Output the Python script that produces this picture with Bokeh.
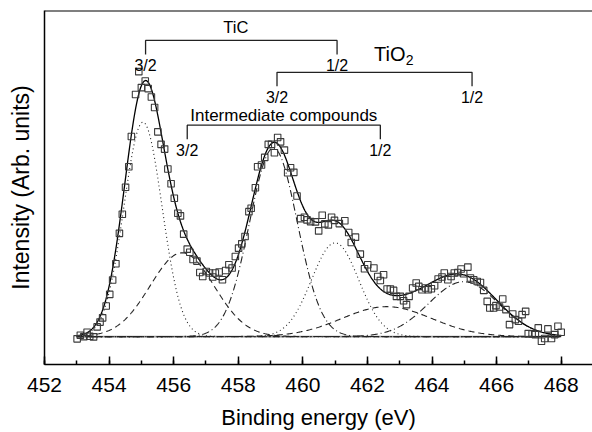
import numpy as np
from bokeh.plotting import figure
from bokeh.models import FixedTicker, Span, Range1d
from bokeh.core.properties import value
from bokeh.embed import file_html
from bokeh.resources import INLINE

# ---- measured spectrum (binding energy eV, intensity arb.) ----
energy = [453.01, 453.11, 453.22, 453.32, 453.40, 453.52, 453.63, 453.72, 453.80, 453.91,
          454.02, 454.11, 454.21, 454.32, 454.41, 454.51, 454.61, 454.69, 454.82, 454.92,
          455.00, 455.12, 455.21, 455.31, 455.41, 455.51, 455.61, 455.72, 455.82, 455.92,
          456.02, 456.13, 456.21, 456.31, 456.42, 456.50, 456.60, 456.72, 456.81, 456.90,
          457.01, 457.11, 457.21, 457.29, 457.41, 457.51, 457.61, 457.71, 457.81, 457.91,
          458.01, 458.11, 458.21, 458.33, 458.40, 458.53, 458.60, 458.72, 458.82, 458.93,
          459.03, 459.12, 459.22, 459.31, 459.43, 459.53, 459.62, 459.72, 459.82, 459.93,
          460.05, 460.13, 460.24, 460.39, 460.49, 460.60, 460.68, 460.79, 460.89, 460.98,
          461.13, 461.30, 461.42, 461.50, 461.63, 461.78, 461.91, 462.01, 462.20, 462.32,
          462.40, 462.50, 462.61, 462.71, 462.81, 462.90, 463.02, 463.12, 463.21, 463.29,
          463.40, 463.51, 463.59, 463.69, 463.80, 463.88, 463.98, 464.08, 464.19, 464.31,
          464.38, 464.49, 464.59, 464.69, 464.80, 464.90, 464.98, 465.11, 465.19, 465.29,
          465.40, 465.50, 465.60, 465.71, 465.79, 465.91, 465.98, 466.09, 466.19, 466.29,
          466.40, 466.50, 466.58, 466.68, 466.79, 466.90, 466.98, 467.10, 467.20, 467.29,
          467.39, 467.49, 467.59, 467.70, 467.80, 467.90, 468.00]
intensity = [-2.3, 1.3, 0.0, 4.3, 0.3, -0.3, 9.7, 14.5, 18.8, 30.7,
             42.3, 56.7, 73.0, 103.5, 122.7, 149.7, 170.3, 200.7, 242.7, 265.7,
             249.7, 256.3, 248.7, 240.3, 229.7, 205.3, 192.7, 188.0, 168.0, 153.3,
             138.7, 123.7, 121.0, 102.7, 87.7, 84.5, 77.3, 75.7, 64.3, 60.3,
             65.3, 63.7, 59.7, 63.7, 64.7, 57.0, 66.3, 72.0, 68.7, 80.3,
             88.7, 93.0, 100.3, 125.3, 128.7, 149.3, 170.3, 172.0, 179.7, 192.7,
             192.7, 184.3, 199.7, 195.3, 187.0, 164.3, 169.3, 164.7, 141.0, 118.3,
             119.7, 117.0, 115.3, 115.0, 106.0, 121.7, 113.0, 112.0, 119.7, 116.5,
             113.3, 116.2, 104.3, 94.3, 99.7, 82.7, 68.0, 72.0, 68.7, 60.3,
             56.3, 62.0, 47.7, 47.7, 46.3, 40.3, 40.3, 36.0, 32.0, 40.3,
             48.7, 53.7, 50.3, 47.0, 48.7, 47.0, 48.0, 51.0, 57.7, 59.7,
             63.7, 57.0, 60.3, 63.7, 64.3, 67.7, 63.0, 69.7, 58.7, 57.0,
             55.3, 54.3, 46.3, 35.3, 28.7, 28.7, 31.0, 29.7, 37.7, 27.0,
             12.0, 22.7, 17.0, 15.3, 22.0, 25.3, 3.0, 2.7, 2.0, 8.7,
             -4.7, -2.0, 7.7, -2.0, 2.0, 10.3, 4.3]

# ---- fitted components (Gaussian peaks) ----
peak_names = ["TiC 3/2", "TiC 1/2", "Int 3/2", "Int 1/2", "TiO2 3/2", "TiO2 1/2"]
peak_centers = [455.05, 461.00, 456.26, 462.60, 459.09, 464.98]
peak_heights = [215.0, 94.0, 84.0, 30.0, 189.0, 55.0]
peak_fwhm = [1.39, 1.72, 2.33, 3.27, 1.74, 2.54]
peak_group = ["TiC", "TiC", "Int", "Int", "TiO2", "TiO2"]
group_dash = {"TiC": "1 3", "Int": "6 4", "TiO2": "7 3 1 3"}

fit_start, fit_end = 453.0, 468.0

# ---- annotation brackets (3/2 position, 1/2 position, label) ----
bracket_labels = ["TiC", "TiO", "Intermediate compounds"]
bracket_left = [455.13, 459.20, 456.42]
bracket_right = [461.06, 465.24, 462.40]
bracket_top = [297.0, 265.0, 212.0]

xticks = [452, 454, 456, 458, 460, 462, 464, 466, 468]
minor_ticks = list(range(452, 470))

FONT = "Liberation Sans"

p = figure(width=592, height=432, output_backend="svg", toolbar_location=None,
           x_range=Range1d(452, 468.97), y_range=Range1d(-28, 327),
           min_border_left=44, min_border_right=0, min_border_top=10, min_border_bottom=67)
p.outline_line_color = None
p.grid.visible = False
p.background_fill_color = "white"
p.border_fill_color = "white"

# x axis
xa = p.xaxis[0]
xa.ticker = FixedTicker(ticks=xticks, minor_ticks=minor_ticks)
xa.axis_line_width = 1.5
xa.axis_line_color = "black"
xa.major_tick_in = 8
xa.major_tick_out = 0
xa.minor_tick_in = 4
xa.minor_tick_out = 0
xa.major_tick_line_width = 1.5
xa.minor_tick_line_width = 1.5
xa.major_label_text_font = FONT
xa.major_label_text_font_size = "21px"
xa.major_label_text_color = "black"
xa.major_label_standoff = 13
xa.axis_label = "Binding energy (eV)"
xa.axis_label_text_font = FONT
xa.axis_label_text_font_size = "22px"
xa.axis_label_text_font_style = "normal"
xa.axis_label_text_color = "black"
xa.axis_label_standoff = 10

# y axis
ya = p.yaxis[0]
ya.ticker = FixedTicker(ticks=[])
ya.axis_line_width = 1.5
ya.axis_line_color = "black"
ya.major_tick_line_color = None
ya.minor_tick_line_color = None
ya.axis_label = "Intensity (Arb. units)"
ya.axis_label_text_font = FONT
ya.axis_label_text_font_size = "23px"
ya.axis_label_text_font_style = "normal"
ya.axis_label_text_color = "black"
ya.axis_label_standoff = 11

# top border
p.add_layout(Span(location=327, dimension="width", line_color="black", line_width=2))

# fit curves
xs = np.linspace(fit_start, fit_end, 600)
total = np.zeros_like(xs)
comps = []
for c, h, w in zip(peak_centers, peak_heights, peak_fwhm):
    s = w / (2.0 * np.sqrt(2.0 * np.log(2.0)))
    y = h * np.exp(-0.5 * ((xs - c) / s) ** 2)
    comps.append(y)
    total += y

# baseline
p.line([fit_start, fit_end], [0, 0], line_color="#9a9a9a", line_width=1.6)

for y, g in zip(comps, peak_group):
    p.line(xs, y, line_color="#222222", line_width=1.1, line_dash=group_dash[g])

p.line(xs, total, line_color="black", line_width=1.3)

# data points
p.scatter(energy, intensity, marker="square", size=6.5, fill_color=None,
          line_color="#3a3a3a", line_width=1.1)

# brackets
tick_len = 14.0
for lab, xl, xr, yt in zip(bracket_labels, bracket_left, bracket_right, bracket_top):
    p.line([xl, xl, xr, xr], [yt - tick_len, yt, yt, yt - tick_len],
           line_color="#222222", line_width=1.3)
    p.text([xl, xr], [yt - 25, yt - 25], text=["3/2", "1/2"],
           text_font=value(FONT), text_font_size="16px", text_align="center",
           text_baseline="middle", text_color="black")

# bracket titles
p.text([(bracket_left[0] + bracket_right[0]) / 2 - 0.17], [bracket_top[0] + 13], text=["TiC"],
       text_font=value(FONT), text_font_size="16.5px", text_align="center",
       text_baseline="middle", text_color="black")
p.text([(bracket_left[2] + bracket_right[2]) / 2], [bracket_top[2] + 10],
       text=["Intermediate compounds"],
       text_font=value(FONT), text_font_size="17px", text_align="center",
       text_baseline="middle", text_color="black")
p.text([463.18], [bracket_top[1] + 18], text=["TiO"],
       text_font=value(FONT), text_font_size="20px", text_align="right",
       text_baseline="middle", text_color="black")
p.text([463.19], [bracket_top[1] + 12], text=["2"],
       text_font=value(FONT), text_font_size="14px", text_align="left",
       text_baseline="middle", text_color="black")

open("out.html", "w").write(file_html(p, INLINE))
